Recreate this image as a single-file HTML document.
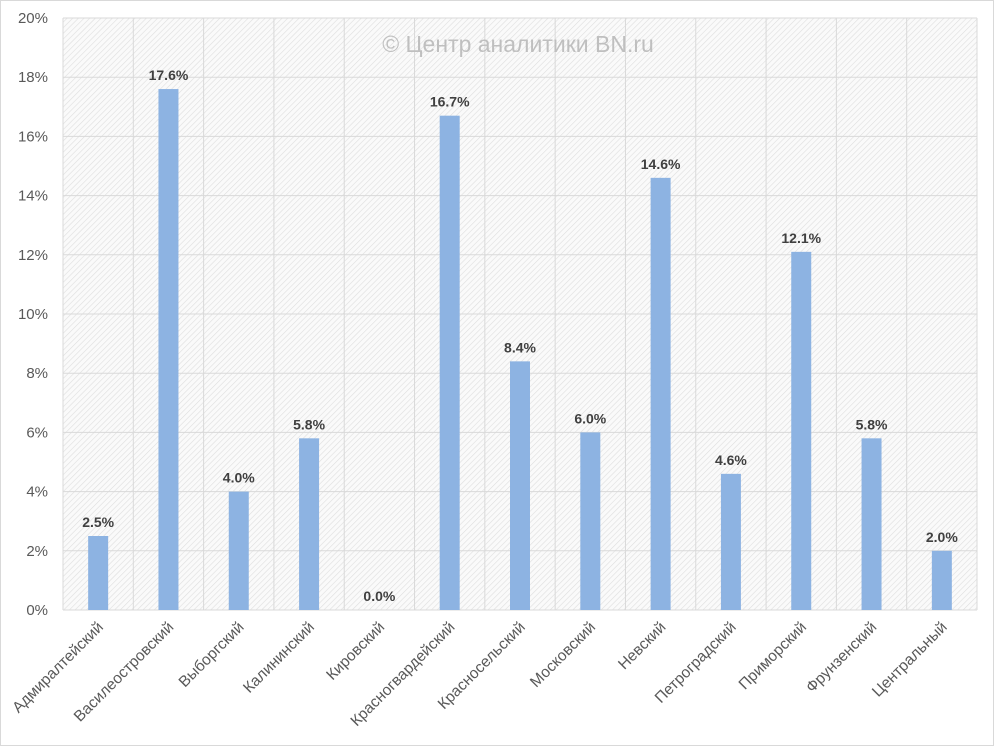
<!DOCTYPE html>
<html><head><meta charset="utf-8"><style>
html,body{margin:0;padding:0;background:#fff}
svg{display:block;font-family:"Liberation Sans",sans-serif}
</style></head><body>
<svg width="994" height="746" viewBox="0 0 994 746">
<defs>
<pattern id="hatch" width="4" height="4" patternUnits="userSpaceOnUse" patternTransform="rotate(45)">
<rect width="4" height="4" fill="#fafafa"/>
<line x1="0" y1="0" x2="0" y2="4" stroke="#dedede" stroke-width="1.2"/>
</pattern>
</defs>
<rect x="0.5" y="0.5" width="993" height="745" fill="#fff" stroke="#d9d9d9"/>
<rect x="63" y="18" width="914" height="592" fill="url(#hatch)"/>
<g id="grid"></g>
<text x="518" y="52" text-anchor="middle" font-size="23" fill="#bfbfbf">© Центр аналитики BN.ru</text>
<g id="yaxis"></g>
<g id="bars"></g>
<g id="xaxis"></g>
</svg>
<script>
const categories=["Адмиралтейский","Василеостровский","Выборгский","Калининский","Кировский","Красногвардейский","Красносельский","Московский","Невский","Петроградский","Приморский","Фрунзенский","Центральный"];
const values=[2.5,17.6,4.0,5.8,0.0,16.7,8.4,6.0,14.6,4.6,12.1,5.8,2.0];
const yTicks=[0,2,4,6,8,10,12,14,16,18,20];
const NS="http://www.w3.org/2000/svg";
const L=63,T=18,B=610,W=914,n=categories.length,step=W/n;
const y=v=>B-(v/20)*(B-T);
const x=i=>L+step*i+step/2;
function mk(tag,attrs,parent){const e=document.createElementNS(NS,tag);for(const k in attrs)e.setAttribute(k,attrs[k]);document.getElementById(parent).appendChild(e);return e;}
yTicks.forEach(t=>{
 const l=mk('line',{x1:L,x2:L+W,y1:y(t),y2:y(t),stroke:'#d9d9d9','stroke-width':1},'grid');
 
 
 const tx=mk('text',{x:48,y:y(t)+5,'text-anchor':'end','font-size':15,fill:'#595959'},'yaxis');
 tx.textContent=t+'%';
 
 
});
for(let i=0;i<=n;i++){
 const l=mk('line',{x1:L+step*i,x2:L+step*i,y1:T,y2:B,stroke:'#d9d9d9','stroke-width':1},'grid');
 
 
}
categories.forEach((c,i)=>{
 const cx=x(i),v=values[i];
 const r=mk('rect',{x:cx-10,y:y(v),width:20,height:B-y(v),fill:'#8db3e2'},'bars');
 
 
 const lb=mk('text',{x:cx,y:y(v)-9,'text-anchor':'middle','font-size':14,'font-weight':'bold',fill:'#404040'},'bars');
 lb.textContent=v.toFixed(1)+'%';
 
 
 const xl=mk('text',{x:cx+6,y:628,'text-anchor':'end','font-size':15.5,fill:'#595959',transform:`rotate(-45 ${cx+6} 628)`},'xaxis');
 xl.textContent=c;
 
 
});
</script>
</body></html>
